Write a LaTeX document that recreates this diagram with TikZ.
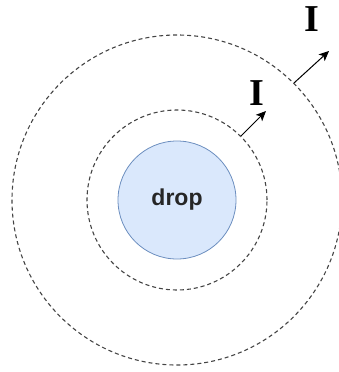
\documentclass[tikz,border=0pt]{standalone}
\usepackage{fontspec}
\setmainfont{Liberation Serif}
\setsansfont{Liberation Sans}
\usepackage{xcolor}
\usetikzlibrary{arrows.meta, positioning}
\definecolor{dropfill}{HTML}{DAE8FC}
\definecolor{dropline}{HTML}{6C8EBF}
\definecolor{ringline}{HTML}{444444}

\begin{document}
\begin{tikzpicture}[
    x=1pt, y=-1pt,
    drop/.style={circle, draw=dropline, fill=dropfill, line width=0.8pt, minimum size=118pt, inner sep=0pt, font=\sffamily\bfseries\fontsize{23}{23}\selectfont, text=black!85},
    ring/.style={circle, draw=ringline, dashed, dash pattern=on 4pt off 3pt, line width=1.1pt, inner sep=0pt},
    arr/.style={-{Stealth[length=10pt, width=9pt, inset=2.5pt]}, line width=1pt},
    flux/.style={font=\bfseries\fontsize{38}{38}\selectfont, inner sep=0pt}
]
\useasboundingbox (0,0) rectangle (339,372);
\node[drop] (core) at (177,200) {drop};
\node[ring, minimum size=180pt] (inner) at (177,200) {};
\node[ring, minimum size=330pt] (outer) at (177,200) {};

\coordinate (tipin) at (266,111);
\coordinate (tipout) at (329,51);
\draw[arr] (inner.45) -- (tipin);
\draw[arr] (outer.45) -- (tipout);
\node[flux] (fluxin) at (257,93) {I};
\node[flux] (fluxout) at (312,19) {I};
\end{tikzpicture}
\end{document}
